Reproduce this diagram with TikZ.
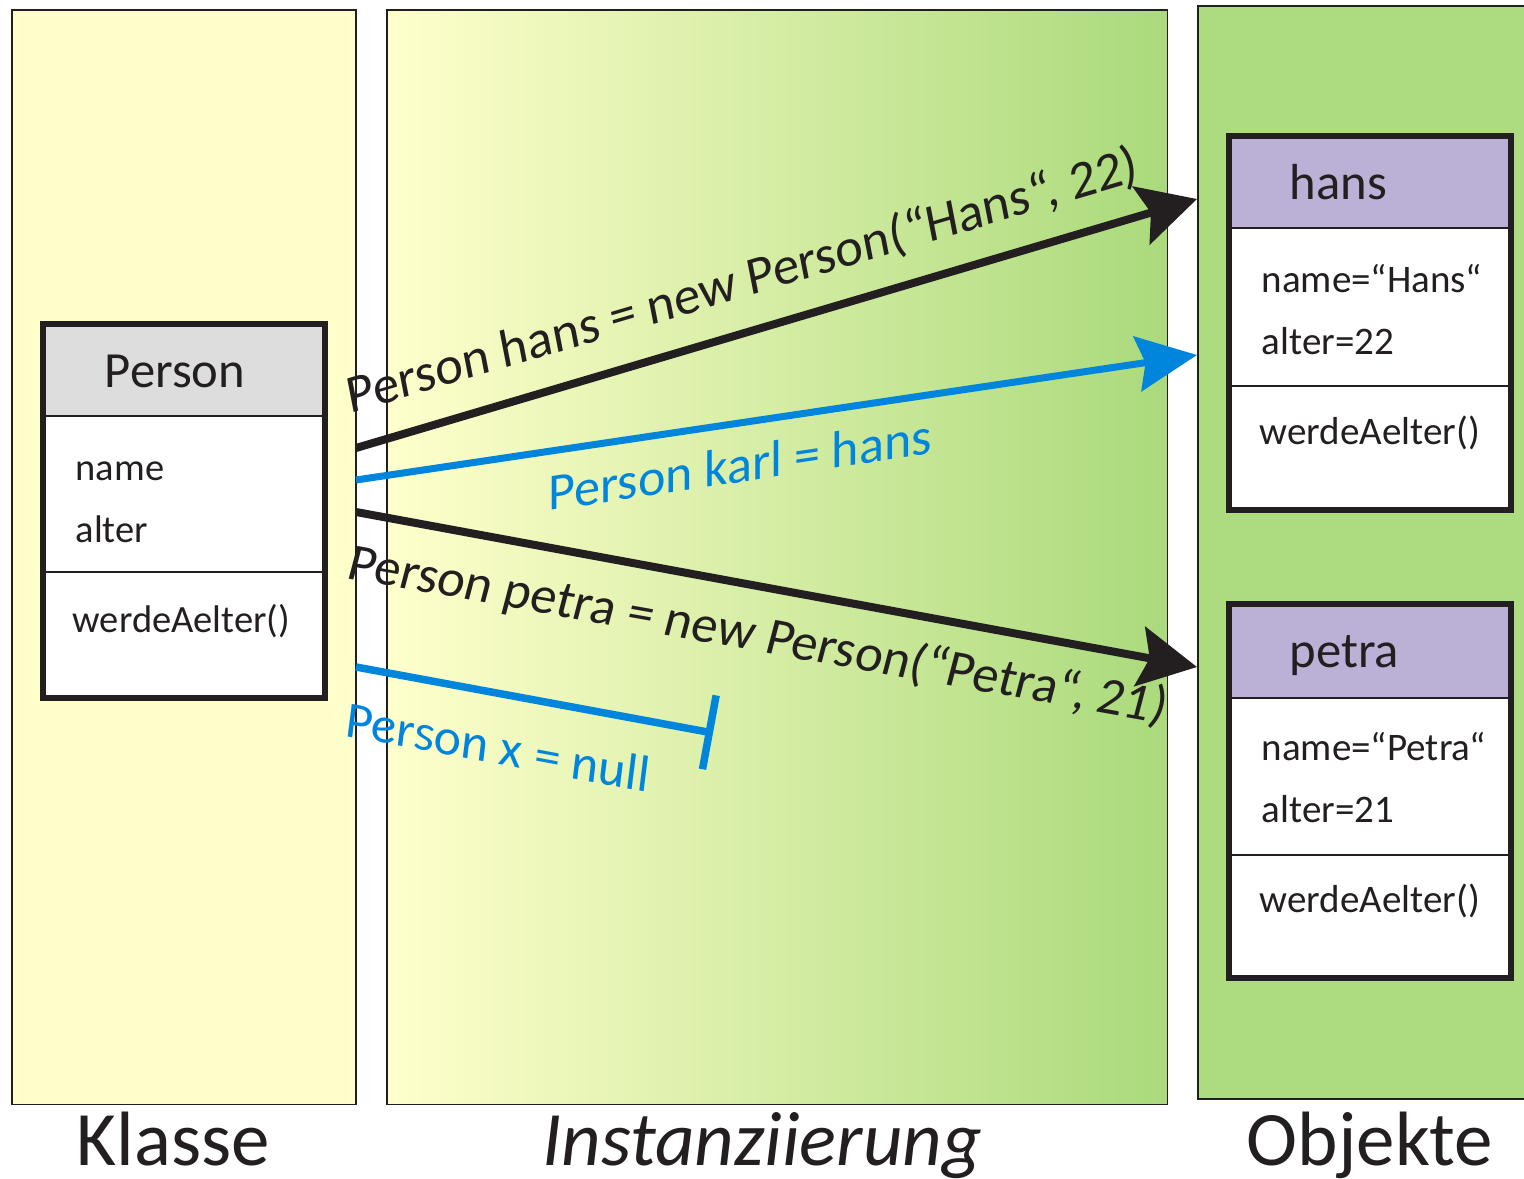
\documentclass[tikz,border=0pt]{standalone}
\usepackage{fontspec}
\setmainfont{Carlito}
\usetikzlibrary{arrows.meta}
\definecolor{paleyellow}{RGB}{255,255,204}
\definecolor{objgreen}{RGB}{173,220,128}
\definecolor{gradgreen}{RGB}{170,218,123}
\definecolor{hdrgray}{RGB}{221,221,221}
\definecolor{hdrpurple}{RGB}{187,176,214}
\definecolor{refblue}{RGB}{0,133,221}
\definecolor{inkblack}{RGB}{35,31,32}
\begin{document}
\begin{tikzpicture}[x=0.01cm, y=-0.01cm,
  panel/.style={draw=inkblack, line width=0.015cm, inner sep=0pt, outer sep=0pt, anchor=north west},
  panelline/.style={draw=inkblack, line width=0.015cm},
  frame/.style={draw=inkblack, line width=0.06cm},
  sepline/.style={draw=inkblack, line width=0.02cm},
  hdrtext/.style={inner sep=0pt, anchor=base, text=inkblack, font=\fontsize{14.4pt}{17pt}\selectfont},
  attrtext/.style={inner sep=0pt, anchor=base west, text=inkblack, font=\fontsize{11.1pt}{13pt}\selectfont},
  lbl/.style={inner sep=0pt, anchor=base west, font=\fontsize{14.8pt}{17pt}\selectfont},
  title/.style={inner sep=0pt, anchor=base, text=inkblack, font=\fontsize{21.9pt}{26pt}\selectfont},
  blackarrow/.style={draw=inkblack, line width=0.08cm, -{Stealth[length=0.58cm, width=0.6cm, inset=0.1cm]}},
  bluearrow/.style={draw=refblue, line width=0.07cm, -{Stealth[length=0.6cm, width=0.55cm, inset=0.08cm]}},
  nullline/.style={draw=refblue, line width=0.075cm, -{Bar[width=0.75cm]}}
]
\useasboundingbox (0,0) rectangle (1524,1179);

% panels
\node[panel, fill=paleyellow, minimum width=3.44cm, minimum height=10.94cm] (klasse) at (12,10) {};
\node[panel, left color=paleyellow, right color=gradgreen, minimum width=7.80cm, minimum height=10.94cm] (inst) at (387,10) {};
\fill[objgreen] (1198,6) rectangle (1524,1099);
\draw[panelline] (1524,6) -- (1198,6) -- (1198,1099) -- (1524,1099);

% Person class box
\fill[hdrgray] (43,324) rectangle (325,416);
\fill[white] (43,416) rectangle (325,698);
\draw[sepline] (43,416) -- (325,416);
\draw[sepline] (43,572) -- (325,572);
\draw[frame] (43,324) rectangle (325,698);
\node[hdrtext] (person) at (175,387) {Person};
\node[attrtext, font=\fontsize{10.95pt}{13pt}\selectfont] (pname) at (75,480) {name};
\node[attrtext, font=\fontsize{10.95pt}{13pt}\selectfont] (palter) at (75,542) {alter};
\node[attrtext, font=\fontsize{10.95pt}{13pt}\selectfont] (pmeth) at (72,632) {werdeAelter()};

% hans object box
\fill[hdrpurple] (1229,136) rectangle (1511,228);
\fill[white] (1229,228) rectangle (1511,510);
\draw[sepline] (1229,228) -- (1511,228);
\draw[sepline] (1229,386) -- (1511,386);
\draw[frame] (1229,136) rectangle (1511,510);
\node[hdrtext, anchor=base west] (hans) at (1289,200) {hans};
\node[attrtext] (hname) at (1261,293) {name=“Hans“};
\node[attrtext] (halter) at (1261,354) {alter=22};
\node[attrtext] (hmeth) at (1259,444) {werdeAelter()};

% petra object box
\fill[hdrpurple] (1229,604) rectangle (1511,698);
\fill[white] (1229,698) rectangle (1511,978);
\draw[sepline] (1229,698) -- (1511,698);
\draw[sepline] (1229,855) -- (1511,855);
\draw[frame] (1229,604) rectangle (1511,978);
\node[hdrtext, anchor=base west] (petra) at (1289,667) {petra};
\node[attrtext] (pename) at (1261,760) {name=“Petra“};
\node[attrtext] (pealter) at (1261,822) {alter=21};
\node[attrtext] (pemeth) at (1259,912) {werdeAelter()};

% connector end points
\coordinate (a1s) at (356,448);
\coordinate (a1e) at (1197,199);
\coordinate (a2s) at (356,480);
\coordinate (a2e) at (1197,355);
\coordinate (a3s) at (356,512);
\coordinate (a3e) at (1197,667);
\coordinate (a4s) at (356,667);
\coordinate (a4e) at (713,733);

\draw[blackarrow] (a1s) -- (a1e);
\draw[bluearrow] (a2s) -- (a2e);
\draw[blackarrow] (a3s) -- (a3e);
\draw[nullline] (a4s) -- (a4e);

% connector labels
\node[lbl, text=inkblack, rotate=11, yslant=0.096, font=\fontsize{15.1pt}{17pt}\selectfont] (lhans) at (350,414) {Person hans = new Person(“Hans“, 22)};
\node[lbl, text=refblue, yslant=0.149] (lkarl) at (548,511) {Person karl = hans};
\node[lbl, text=inkblack, rotate=-10.1, xslant=0.08, font=\fontsize{14.95pt}{17pt}\selectfont] (lpetra) at (345,578) {Person petra = new Person(“Petra“, 21)};
\node[lbl, text=refblue, yslant=-0.187, font=\fontsize{14.8pt}{17pt}\selectfont\itshape] (lnull) at (345,736) {Person x = null};

% panel titles
\node[title] (tklasse) at (173,1165) {Klasse};
\node[title, font=\fontsize{21.9pt}{26pt}\selectfont\itshape] (tinst) at (762,1165) {Instanziierung};
\node[title] (tobj) at (1370,1165) {Objekte};
\end{tikzpicture}
\end{document}
